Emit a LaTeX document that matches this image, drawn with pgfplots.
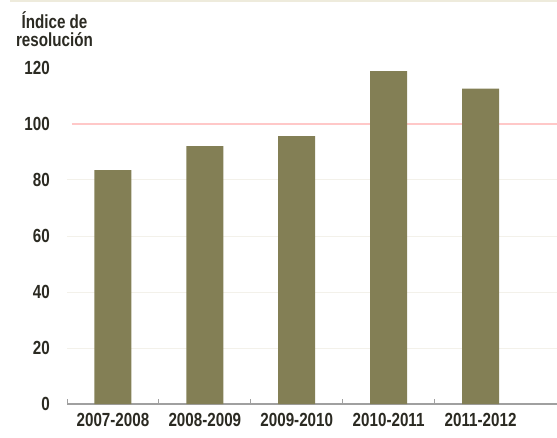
\documentclass[border=0pt]{standalone}
\usepackage{pgfplots}
\pgfplotsset{compat=1.18}
\usepackage{fontspec}
\setmainfont{Liberation Sans}[FakeStretch=0.8]
\definecolor{barcol}{HTML}{837F55}
\definecolor{txtcol}{HTML}{2B2A22}
\definecolor{gridcol}{HTML}{F3F1EA}
\definecolor{pinkline}{HTML}{FFC8C8}
\definecolor{topline}{HTML}{EEEBDC}
\definecolor{axcol}{HTML}{A0A0A0}
\begin{document}
\begin{tikzpicture}
\path[use as bounding box] (0,0) rectangle (557pt,437pt);
\draw[topline, line width=1.5pt] (10pt,436pt) -- (557pt,436pt);
\node[anchor=base, font=\fontsize{19}{19}\selectfont\bfseries, text=txtcol, inner sep=0pt] at (54.5pt,408pt) {Índice de};
\node[anchor=base, font=\fontsize{19}{19}\selectfont\bfseries, text=txtcol, inner sep=0pt] at (54.5pt,390pt) {resolución};
\begin{axis}[
    at={(67pt,33pt)}, anchor=south west,
    scale only axis,
    width=490pt, height=350pt,
    xmin=-0.5, xmax=4.832,
    ymin=0, ymax=125,
    axis x line*=bottom, axis y line*=left,
    y axis line style={draw=none},
    x axis line style={axcol, line width=1.2pt},
    xtick={0,1,2,3,4},
    xticklabels={2007-2008,2008-2009,2009-2010,2010-2011,2011-2012},
    minor xtick={-0.5,0.5,1.5,2.5,3.5},
    major x tick style={draw=none},
    minor x tick style={axcol, line width=0.8pt},
    minor tick length=5pt,
    tick align=inside,
    ytick={0,20,40,60,80,100,120},
    ytick style={draw=none},
    extra y ticks={20,40,60,80},
    extra y tick labels={},
    extra y tick style={grid=major, grid style={gridcol, line width=1pt}},
    /pgf/number format/assume math mode=true,
    ticklabel style={font=\fontsize{19}{19}\selectfont\bfseries, text=txtcol, inner sep=0pt},
    yticklabel style={anchor=east, xshift=-17pt},
    xticklabel style={anchor=north, yshift=-8.7pt},
]
\addplot[pinkline, line width=1.2pt, forget plot] coordinates {(-0.45,100) (4.832,100)};
\addplot[ybar, bar width=37pt, fill=barcol, draw=none] coordinates {(0,83.5) (1,92.1) (2,95.7) (3,118.9) (4,112.6)};
\end{axis}
\end{tikzpicture}
\end{document}
